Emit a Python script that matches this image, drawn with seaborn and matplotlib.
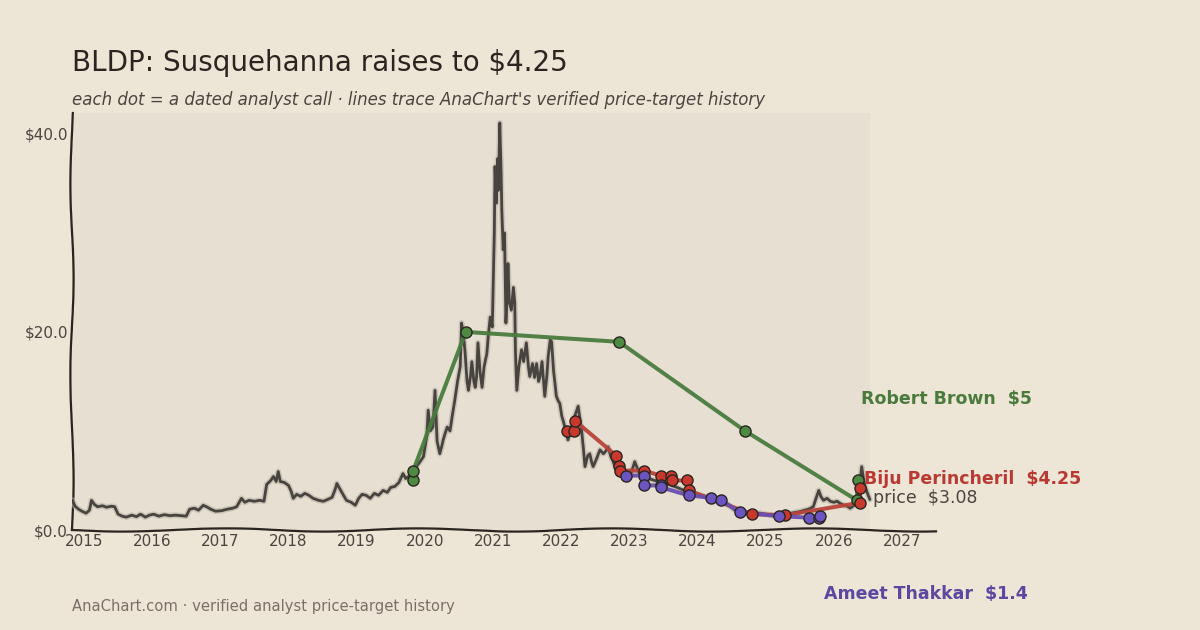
import matplotlib
matplotlib.use("Agg")
import matplotlib.pyplot as plt
import matplotlib.patheffects as pe
import pandas as pd
import seaborn as sns

# price history (decimal year, USD)
price_t = [
    2014.83, 2014.87, 2014.92, 2014.97, 2015.03, 2015.08, 2015.11, 2015.15, 2015.20, 2015.27,
    2015.33, 2015.40, 2015.45, 2015.50, 2015.56, 2015.62, 2015.70, 2015.77, 2015.83, 2015.90,
    2015.96, 2016.02, 2016.10, 2016.18, 2016.26, 2016.34, 2016.42, 2016.50, 2016.55, 2016.62,
    2016.68, 2016.75, 2016.81, 2016.86, 2016.93, 2017.02, 2017.10, 2017.18, 2017.24, 2017.31,
    2017.36, 2017.42, 2017.50, 2017.58, 2017.64, 2017.68, 2017.74, 2017.78, 2017.82, 2017.85,
    2017.88, 2017.94, 2018.00, 2018.04, 2018.07, 2018.12, 2018.18, 2018.24, 2018.30, 2018.36,
    2018.44, 2018.51, 2018.58, 2018.64, 2018.69, 2018.71, 2018.75, 2018.80, 2018.85, 2018.92,
    2018.98, 2019.03, 2019.08, 2019.14, 2019.20, 2019.26, 2019.32, 2019.39, 2019.45, 2019.50,
    2019.56, 2019.62, 2019.68, 2019.72, 2019.78, 2019.85, 2019.92, 2019.98, 2020.03, 2020.05,
    2020.08, 2020.12, 2020.15, 2020.18, 2020.22, 2020.25, 2020.27, 2020.30, 2020.33, 2020.37,
    2020.40, 2020.44, 2020.48, 2020.52, 2020.54, 2020.57, 2020.59, 2020.62, 2020.64, 2020.67,
    2020.69, 2020.72, 2020.74, 2020.76, 2020.78, 2020.81, 2020.84, 2020.87, 2020.91, 2020.93,
    2020.96, 2020.99, 2021.00, 2021.02, 2021.03, 2021.05, 2021.07, 2021.08, 2021.10, 2021.12,
    2021.13, 2021.15, 2021.17, 2021.19, 2021.21, 2021.22, 2021.24, 2021.27, 2021.30, 2021.32,
    2021.33, 2021.35, 2021.38, 2021.42, 2021.45, 2021.49, 2021.52, 2021.54, 2021.58, 2021.61,
    2021.64, 2021.67, 2021.69, 2021.72, 2021.76, 2021.79, 2021.81, 2021.84, 2021.86, 2021.89,
    2021.91, 2021.93, 2021.96, 2021.98, 2022.01, 2022.04, 2022.07, 2022.10, 2022.13, 2022.16,
    2022.20, 2022.25, 2022.28, 2022.30, 2022.33, 2022.35, 2022.39, 2022.42, 2022.45, 2022.47,
    2022.52, 2022.57, 2022.62, 2022.66, 2022.69, 2022.73, 2022.76, 2022.79, 2022.84, 2022.89,
    2022.94, 2022.98, 2023.03, 2023.08, 2023.12, 2023.16, 2023.22, 2023.28, 2023.35, 2023.42,
    2023.48, 2023.55, 2023.62, 2023.70, 2023.79, 2023.86, 2023.94, 2024.03, 2024.10, 2024.18,
    2024.26, 2024.33, 2024.40, 2024.48, 2024.55, 2024.62, 2024.70, 2024.78, 2024.85, 2024.92,
    2025.00, 2025.08, 2025.15, 2025.21, 2025.30, 2025.38, 2025.45, 2025.50, 2025.57, 2025.63,
    2025.70, 2025.74, 2025.78, 2025.81, 2025.85, 2025.90, 2025.95, 2026.00, 2026.05, 2026.09,
    2026.15, 2026.20, 2026.24, 2026.30, 2026.36, 2026.39, 2026.41, 2026.44, 2026.46, 2026.50,
    2026.53,
]
price_v = [
    3.0, 2.4, 2.1, 1.9, 1.7, 2.0, 3.0, 2.6, 2.35, 2.45,
    2.3, 2.4, 2.35, 1.6, 1.4, 1.3, 1.5, 1.35, 1.6, 1.3,
    1.5, 1.6, 1.4, 1.55, 1.45, 1.5, 1.45, 1.4, 2.1, 2.2,
    2.0, 2.5, 2.3, 2.1, 1.9, 1.95, 2.1, 2.2, 2.35, 3.2,
    2.8, 3.0, 2.9, 3.0, 2.9, 4.6, 5.0, 5.4, 4.9, 5.9,
    4.9, 4.8, 4.5, 3.9, 3.2, 3.6, 3.4, 3.7, 3.5, 3.2,
    3.0, 2.9, 3.1, 3.3, 4.2, 4.7, 4.2, 3.6, 3.0, 2.8,
    2.5, 3.2, 3.6, 3.5, 3.2, 3.7, 3.5, 4.0, 3.8, 4.3,
    4.4, 4.8, 5.7, 5.2, 5.5, 6.2, 6.8, 7.4, 9.5, 12.1,
    10.0, 10.4, 14.1, 9.0, 7.7, 8.5, 9.1, 9.8, 10.4, 10.0,
    11.4, 13.1, 15.0, 16.5, 20.9, 19.5, 18.0, 15.0, 14.1, 15.5,
    17.0, 15.0, 14.4, 15.5, 18.9, 16.0, 14.4, 16.5, 17.8, 19.5,
    21.5, 20.5, 23.6, 30.0, 36.7, 33.0, 37.5, 34.3, 41.1, 36.0,
    32.3, 28.3, 30.0, 20.9, 24.0, 26.9, 23.0, 22.2, 24.5, 22.9,
    18.0, 14.1, 16.5, 18.2, 17.0, 18.9, 16.5, 15.5, 16.8, 15.4,
    16.8, 15.0, 15.5, 17.0, 13.5, 15.5, 17.5, 19.2, 19.0, 16.0,
    14.8, 13.5, 13.0, 12.8, 11.5, 10.8, 10.0, 9.1, 9.8, 10.5,
    11.5, 12.5, 11.0, 10.1, 8.0, 6.4, 7.5, 7.7, 6.8, 6.4,
    7.2, 8.1, 7.7, 8.0, 8.4, 7.4, 7.0, 6.4, 6.0, 5.55,
    5.3, 5.05, 5.8, 6.9, 6.2, 5.55, 5.4, 5.2, 5.05, 4.9,
    4.8, 4.7, 4.5, 4.3, 4.04, 3.8, 3.6, 3.5, 3.4, 3.2,
    3.1, 3.0, 2.8, 2.4, 2.0, 1.8, 1.75, 1.6, 1.7, 1.7,
    1.6, 1.5, 1.4, 1.5, 1.55, 1.7, 1.8, 1.85, 2.0, 2.1,
    2.35, 3.2, 4.0, 3.4, 3.0, 3.2, 2.9, 2.8, 2.9, 2.7,
    2.5, 2.4, 2.2, 2.5, 2.7, 5.0, 6.4, 5.0, 4.4, 3.6,
    3.08,
]

# analyst price-target calls (decimal year, target)
brown_t = [2019.82, 2019.83, 2020.60, 2022.85, 2024.70, 2026.34, 2026.35]
brown_v = [5, 6, 20, 19, 10, 3, 5]

biju_t = [2022.08, 2022.19, 2022.21, 2022.81, 2022.85, 2022.86, 2023.21, 2023.46,
          2023.61, 2023.63, 2023.85, 2023.87, 2024.80, 2025.29, 2026.38, 2026.39]
biju_v = [10, 10, 11, 7.5, 6.5, 6, 6, 5.5,
          5.5, 5, 5, 4, 1.6, 1.5, 2.75, 4.25]

ameet_t = [2022.95, 2023.21, 2023.22, 2023.46, 2023.47, 2023.87, 2024.20, 2024.35,
           2024.62, 2025.20, 2025.63, 2025.79, 2025.80]
ameet_v = [5.5, 5.5, 4.5, 4.5, 4.3, 3.5, 3.25, 3, 1.8, 1.4, 1.25, 1.2, 1.4]

analysts = ["Robert Brown", "Biju Perincheril", "Ameet Thakkar"]
line_colors = ["#4a7c3f", "#b8443a", "#6a4fb0"]
dot_colors = ["#4e8a42", "#c8382c", "#6b55c0"]
label_colors = ["#4a7a3c", "#b83a32", "#5b48a0"]
label_y = [13.2, 5.15, -6.5]

BG = "#ede5d6"
FACE = "#e7e0d2"
INK = "#2a2520"
TXT = "#4a4540"

sns.set_theme(style="white")
plt.rcParams["font.family"] = ["DejaVu Sans"]

fig = plt.figure(figsize=(12, 6.3), dpi=100, facecolor=BG)
ax = fig.add_axes([0.06, 0.1587, 0.72, 0.6619])
ax.set_facecolor(BG)
ax.set_xlim(2014.824, 2027.5)
ax.set_ylim(0, 42.1)
ax.axvspan(2014.824, price_t[-1], color=FACE, zorder=0, lw=0)

price = pd.DataFrame({"t": price_t, "v": price_v})
sns.lineplot(data=price, x="t", y="v", ax=ax, color="#47443f", lw=2.0,
             estimator=None, sort=False, zorder=3,
             path_effects=[pe.Stroke(linewidth=4.2, foreground="#b9b2a6", alpha=0.6), pe.Normal()])

series = [(brown_t, brown_v), (biju_t, biju_v), (ameet_t, ameet_v)]
for (ts, vs), name, lc, dc in zip(series, analysts, line_colors, dot_colors):
    df = pd.DataFrame({"t": ts, "v": vs})
    sns.lineplot(data=df, x="t", y="v", ax=ax, color=lc, lw=2.9, alpha=0.95,
                 estimator=None, sort=False, zorder=4)
    sns.scatterplot(data=df, x="t", y="v", ax=ax, color=dc, s=64,
                    edgecolor=INK, linewidth=1.0, zorder=5)

for (ts, vs), name, c, ly in zip(series, analysts, label_colors, label_y):
    last = vs[-1]
    txt = f"{last:g}" if last != 4.25 else "4.25"
    ax.text(ts[-1] + 0.05, ly, f"{name}  ${txt}", color=c, fontsize=12.5,
            fontweight="bold", va="center", ha="left", clip_on=False)
ax.text(price_t[-1] + 0.05, 3.2, f"price  ${price_v[-1]:.2f}", color=TXT,
        fontsize=12.5, va="center", ha="left", clip_on=False)

ax.set_xticks(range(2015, 2028))
ax.set_xticklabels([str(y) for y in range(2015, 2028)])
ax.set_yticks([0, 20, 40])
ax.set_yticklabels([f"${v:.1f}" for v in [0, 20, 40]])
ax.tick_params(axis="both", length=0, labelsize=11, labelcolor=TXT, pad=3)
ax.set_xlabel("")
ax.set_ylabel("")

for side in ["top", "right"]:
    ax.spines[side].set_visible(False)
for side in ["left", "bottom"]:
    ax.spines[side].set_color(INK)
    ax.spines[side].set_linewidth(1.6)
    ax.spines[side].set_sketch_params(scale=1.6, length=220, randomness=2)

fig.text(0.06, 0.9, "BLDP: Susquehanna raises to $4.25", fontsize=20,
         color=INK, ha="left", va="center")
fig.text(0.06, 0.841, "each dot = a dated analyst call \u00b7 lines trace AnaChart's verified price-target history",
         fontsize=12, style="italic", color=TXT, ha="left", va="center")
fig.text(0.06, 0.038, "AnaChart.com \u00b7 verified analyst price-target history",
         fontsize=10.6, color="#7a7068", ha="left", va="center")

fig.savefig("out.png", dpi=100, facecolor=BG)
